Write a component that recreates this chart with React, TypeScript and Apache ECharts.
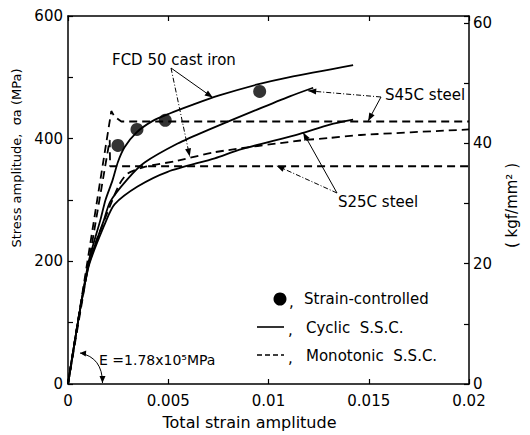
import React, { useEffect, useRef } from "react";
import * as echarts from "echarts";

// ---- data (strain, MPa) ----
const FCD_CYCLIC: [number, number][] = [
  [0, 0], [0.001, 195], [0.00162, 268], [0.00187, 300], [0.00222, 332], [0.00249, 362],
  [0.00282, 386], [0.00341, 410], [0.00423, 429], [0.00507, 441], [0.0062, 455], [0.0075, 470],
  [0.0094, 488], [0.011, 500], [0.01422, 520],
];
const S45C_CYCLIC: [number, number][] = [
  [0, 0], [0.001, 190], [0.0018, 268], [0.0021, 297], [0.00297, 334], [0.00382, 361], [0.00547, 392],
  [0.00697, 414], [0.0094, 447], [0.01106, 469], [0.01223, 483],
];
const S25C_CYCLIC: [number, number][] = [
  [0, 0], [0.001, 188], [0.0019, 266], [0.00232, 293], [0.00347, 322], [0.00497, 346], [0.00732, 368],
  [0.00856, 382], [0.01156, 408], [0.01306, 423], [0.01422, 431],
];
const S45C_MONO: [number, number][] = [
  [0, 0], [0.00216, 445], [0.00232, 436], [0.00266, 428], [0.02, 428],
];
const S25C_MONO: [number, number][] = [
  [0, 0], [0.00208, 398], [0.0021, 355], [0.02, 355],
];
const FCD_MONO: [number, number][] = [
  [0, 0], [0.001, 192], [0.00197, 280], [0.00257, 326], [0.00297, 343], [0.00382, 354],
  [0.00547, 364], [0.00732, 378], [0.0116, 397], [0.013, 401], [0.0146, 406], [0.02, 415],
];
const STRAIN_CONTROLLED: [number, number][] = [
  [0.00249, 389], [0.00344, 415], [0.00485, 430], [0.00956, 477],
];

const X_TICK_LABELS = ["0", "0.005", "0.01", "0.015", "0.02"];
const X_STEP = 0.005;
const X_MAX = 0.02;
const Y_MAX = 600;
const Y_STEP = 200;
const KGF_STEP = 20;
const MPA_PER_KGF = 9.80665;

const FONT = '"DejaVu Sans", sans-serif';

type Ann = { text: string; tx: number; ty: number; arrows: { from: [number, number]; to: [number, number]; dash: boolean }[] };
const ANNOTATIONS: Ann[] = [
  {
    text: "FCD 50 cast iron", tx: 112, ty: 60,
    arrows: [
      { from: [171, 68], to: [0.00722, 467], dash: false },
      { from: [171, 68], to: [0.00607, 371], dash: true },
    ],
  },
  {
    text: "S45C steel", tx: 385, ty: 95,
    arrows: [
      { from: [381, 97], to: [0.01198, 478], dash: true },
      { from: [381, 97], to: [0.01497, 429], dash: false },
    ],
  },
  {
    text: "S25C steel", tx: 338, ty: 202,
    arrows: [
      { from: [337, 193], to: [0.01173, 410], dash: false },
      { from: [337, 193], to: [0.0104, 356], dash: true },
    ],
  },
];

function arrowHead(tip: number[], dirFrom: number[], len = 8, w = 3) {
  const dx = tip[0] - dirFrom[0], dy = tip[1] - dirFrom[1];
  const L = Math.hypot(dx, dy) || 1;
  const ux = dx / L, uy = dy / L;
  const bx = tip[0] - ux * len, by = tip[1] - uy * len;
  return {
    type: "polygon",
    shape: { points: [[tip[0], tip[1]], [bx - uy * w, by + ux * w], [bx + uy * w, by - ux * w]] },
    style: { fill: "#000" },
    z: 20,
  };
}

export default function App() {
  const ref = useRef<HTMLDivElement>(null);
  useEffect(() => {
    const chart = echarts.init(ref.current!, null, { renderer: "svg" });
    const axisLine = { show: true, onZero: false, lineStyle: { color: "#000", width: 1.5 } };
    const tick = { show: true, inside: true, length: 5, lineStyle: { color: "#000", width: 1.2 } };
    const lbl = { color: "#000", fontSize: 15, fontFamily: FONT };
    const nameStyle = { color: "#000", fontSize: 14, fontFamily: FONT };
    const lineSeries = (data: [number, number][], dashed: boolean, smooth: boolean) => ({
      type: "line",
      data,
      showSymbol: false,
      symbol: "none",
      smooth: smooth ? 0.25 : false,
      lineStyle: { color: "#000", width: 1.8, type: dashed ? [8, 5] : "solid" },
      z: 5,
    });
    chart.setOption({
      animation: false,
      grid: { left: 68, right: 61, top: 16, bottom: 50 },
      xAxis: [
        {
          type: "value", min: 0, max: X_MAX, interval: X_STEP, position: "bottom",
          name: "Total strain amplitude", nameLocation: "middle", nameGap: 30,
          nameTextStyle: { ...nameStyle, fontSize: 16, padding: [0, 38, 0, 0] },
          axisLine, axisTick: tick, splitLine: { show: false },
          axisLabel: { ...lbl, margin: 9, formatter: (v: number) => X_TICK_LABELS[Math.round(v / X_STEP)] ?? "" },
        },
        {
          type: "value", min: 0, max: X_MAX, interval: X_STEP, position: "top",
          axisLine, axisTick: tick, splitLine: { show: false }, axisLabel: { show: false },
        },
      ],
      yAxis: [
        {
          type: "value", min: 0, max: Y_MAX, interval: Y_STEP, position: "left",
          name: "Stress amplitude,  σa (MPa)", nameLocation: "middle", nameRotate: 90, nameGap: 38,
          nameTextStyle: { ...nameStyle, fontSize: 13, padding: [0, 0, 0, 84] },
          axisLine, axisTick: tick, minorTick: { show: true, splitNumber: 2, length: 5, lineStyle: { color: "#000", width: 1.2 } },
          splitLine: { show: false }, minorSplitLine: { show: false },
          axisLabel: { ...lbl, margin: 5 },
        },
        {
          type: "value", min: 0, max: Y_MAX / MPA_PER_KGF, interval: KGF_STEP, position: "right",
          name: "( kgf/mm² )", nameLocation: "middle", nameRotate: 90, nameGap: 35,
          nameTextStyle: { ...nameStyle, fontSize: 15, padding: [0, 11, 0, 0] },
          axisLine, axisTick: tick, minorTick: { show: true, splitNumber: 2, length: 5, lineStyle: { color: "#000", width: 1.2 } },
          splitLine: { show: false }, minorSplitLine: { show: false },
          axisLabel: { ...lbl, margin: 4, showMaxLabel: false, formatter: (v: number) => (Math.abs(v % KGF_STEP) < 1e-6 ? String(v) : "") },
        },
      ],
      series: [
        lineSeries(FCD_CYCLIC, false, true),
        lineSeries(S45C_CYCLIC, false, true),
        lineSeries(S25C_CYCLIC, false, true),
        lineSeries(S45C_MONO, true, false),
        lineSeries(S25C_MONO, true, false),
        lineSeries(FCD_MONO, true, true),
        {
          type: "scatter", data: STRAIN_CONTROLLED, symbol: "circle", symbolSize: 13,
          itemStyle: { color: "#000" }, z: 10,
        },
      ],
    });

    const toPx = (p: number[]) => chart.convertToPixel({ xAxisIndex: 0, yAxisIndex: 0 }, p) as number[];
    const g: any[] = [];
    const txt = (text: string, x: number, y: number, extra: any = {}) => ({
      type: "text", x, y, z: 20,
      style: { text, fill: "#000", font: `15px ${FONT}`, align: "left", verticalAlign: "middle", ...extra },
    });
    ANNOTATIONS.forEach((a) => {
      g.push(txt(a.text, a.tx, a.ty));
      a.arrows.forEach((ar) => {
        const t = toPx(ar.to);
        g.push({
          type: "line", z: 20,
          shape: { x1: ar.from[0], y1: ar.from[1], x2: t[0], y2: t[1] },
          style: { stroke: "#000", lineWidth: 1, lineDash: ar.dash ? [5, 2, 1, 2] : null },
        });
        g.push(arrowHead(t, ar.from));
      });
    });
    // E annotation
    const eTip = toPx([0.00172, 0]);
    const eStart = [80, 353];
    g.push({
      type: "bezierCurve", z: 20,
      shape: { x1: eStart[0], y1: eStart[1], cpx1: 95, cpy1: 356, cpx2: eTip[0], cpy2: 366, x2: eTip[0], y2: eTip[1] - 1 },
      style: { stroke: "#000", lineWidth: 1, fill: null },
    });
    g.push(arrowHead([eTip[0], eTip[1] - 1], [eTip[0], eTip[1] - 20], 7, 3));
    g.push(arrowHead(eStart, [92, 354], 6, 3));
    g.push(txt("E =1.78x10⁵MPa", 99, 360, { font: `14px ${FONT}` }));

    // legend
    g.push({ type: "circle", z: 20, shape: { cx: 280, cy: 299, r: 6.5 }, style: { fill: "#000" } });
    g.push(txt(",", 289, 302));
    g.push(txt("Strain-controlled", 304, 299));
    g.push({ type: "line", z: 20, shape: { x1: 257, y1: 327, x2: 284, y2: 327 }, style: { stroke: "#000", lineWidth: 1.6 } });
    g.push(txt(",", 288, 330));
    g.push(txt("Cyclic  S.S.C.", 306, 328));
    g.push({ type: "line", z: 20, shape: { x1: 257, y1: 355, x2: 284, y2: 355 }, style: { stroke: "#000", lineWidth: 1.6, lineDash: [5, 3] } });
    g.push(txt(",", 288, 358));
    g.push(txt("Monotonic  S.S.C.", 306, 356));

    chart.setOption({ graphic: g });
    return () => chart.dispose();
  }, []);
  return <div ref={ref} style={{ position: "fixed", left: 0, top: 0, width: 530, height: 435, background: "#fff" }} />;
}
